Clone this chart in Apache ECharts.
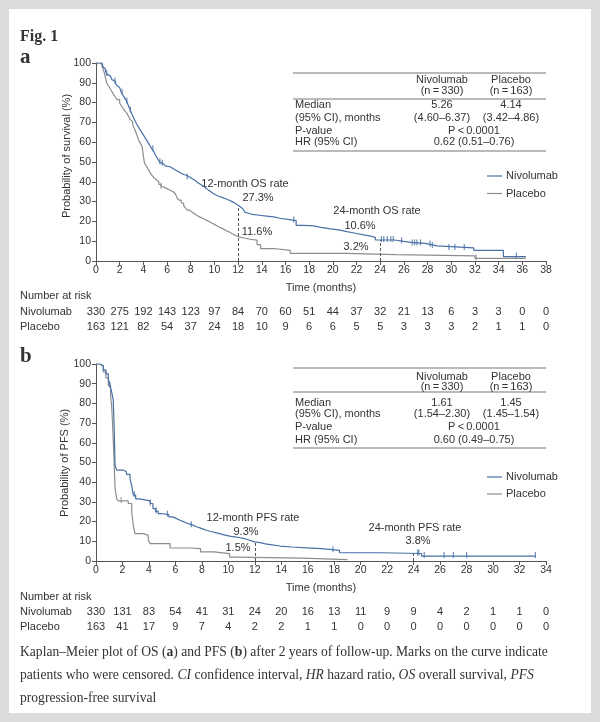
<!DOCTYPE html>
<html><head><meta charset="utf-8">
<script src="https://cdn.jsdelivr.net/npm/echarts/dist/echarts.min.js"></script>
<style>
html,body{margin:0;padding:0;background:#dcdcdc;width:600px;height:722px;overflow:hidden;}
#frame{position:absolute;left:9px;top:9px;width:582px;height:704px;background:#fff;}
#chart{position:absolute;left:0;top:0;width:600px;height:722px;}
#caption{position:absolute;left:20px;top:640px;width:575px;font-family:'Liberation Serif','Times New Roman',serif;font-size:13.6px;line-height:23px;color:#333;white-space:nowrap;}
</style></head>
<body>
<div id="frame"></div>
<div id="chart"></div>
<div id="caption">Kaplan–Meier plot of OS (<b>a</b>) and PFS (<b>b</b>) after 2 years of follow-up. Marks on the curve indicate<br>patients who were censored. <i>CI</i> confidence interval, <i>HR</i> hazard ratio, <i>OS</i> overall survival, <i>PFS</i><br>progression-free survival</div>
<script>
// ---------- DATA ----------
const osTicks = [0,2,4,6,8,10,12,14,16,18,20,22,24,26,28,30,32,34,36,38];
const pfsTicks = [0,2,4,6,8,10,12,14,16,18,20,22,24,26,28,30,32,34];
const osRiskNivo = [330,275,192,143,123,97,84,70,60,51,44,37,32,21,13,6,3,3,0,0];
const osRiskPbo  = [163,121,82,54,37,24,18,10,9,6,6,5,5,3,3,3,2,1,1,0];
const pfsRiskNivo = [330,131,83,54,41,31,24,20,16,13,11,9,9,4,2,1,1,0];
const pfsRiskPbo  = [163,41,17,9,7,4,2,2,1,1,0,0,0,0,0,0,0,0];

const osNivo = [[0,100],[0.5,99],[0.6,98],[0.7,97],[0.8,95.8],[0.9,94.5],[1.05,93.5],[1.2,92.5],[1.35,91.6],[1.5,90.7],[1.65,89.6],[1.8,88.5],[1.9,87.5],[2.0,86.5],[2.15,85],[2.3,83.5],[2.45,82],[2.6,80.6],[2.7,79],[2.8,77.5],[2.9,76],[3.0,74.7],[3.1,73.3],[3.2,72],[3.3,70.8],[3.4,69.6],[3.55,68],[3.7,66.5],[3.85,65],[4.0,63.7],[4.15,62.2],[4.3,60.8],[4.45,59.3],[4.6,57.8],[4.75,56.4],[4.9,55],[5.0,53.8],[5.1,52.7],[5.25,51.2],[5.4,49.8],[5.55,49.1],[5.7,48.5],[5.85,48],[6.0,47.6],[6.25,46.7],[6.5,45.8],[6.75,45],[7.0,44.3],[7.2,43.7],[7.4,43.2],[7.7,42.2],[7.95,41.3],[8.2,40.5],[8.4,39.5],[8.6,38.6],[8.85,37.6],[9.1,36.7],[9.3,35.8],[9.5,35],[9.7,34.1],[9.9,33.3],[10.15,32.6],[10.4,32],[10.7,31.3],[11.0,30.7],[11.25,30],[11.5,29.2],[11.75,28.2],[12.0,27.3],[12.2,26.4],[12.4,25.5],[12.55,24.7],[12.7,24],[12.95,23.5],[13.2,23.1],[13.8,22.7],[14.4,22.3],[15.0,21.6],[15.5,21],[16.2,20.4],[16.9,18.0],[17.5,17.7],[18.4,17.0],[19.0,16.2],[19.8,15.7],[20.5,14.8],[21.2,14.0],[21.9,13.2],[22.6,12.6],[23.2,11.8],[23.6,10.6],[25.2,9.9],[26.0,9.4],[26.6,8.9],[27.8,8.3],[28.3,7.6],[28.8,6.6],[31.9,5.4],[34.4,2.2],[36.3,2.2]];
const osPbo = [[0,100],[0.5,98.5],[0.6,96.8],[0.7,95],[0.8,92.5],[0.9,90],[1.05,88.5],[1.2,87],[1.35,85.5],[1.5,84],[1.65,82.7],[1.8,81.5],[2.0,79.7],[2.15,78.3],[2.3,77],[2.45,75.8],[2.6,74.7],[2.7,73.6],[2.8,72.5],[2.9,71.4],[3.0,70.4],[3.1,69],[3.2,67.5],[3.3,66],[3.4,64.5],[3.5,62.8],[3.6,61],[3.75,59.4],[3.9,57.8],[4.0,53],[4.1,49.3],[4.25,47.9],[4.4,46.5],[4.5,45.4],[4.6,44.3],[4.75,43.1],[4.9,42],[5.0,41],[5.1,40],[5.3,38.7],[5.5,37.5],[5.7,36.8],[5.9,36.2],[6.1,35.6],[6.3,35],[6.5,34],[6.7,33],[6.85,31.8],[7.0,30.7],[7.2,29.3],[7.4,28],[7.55,26.8],[7.7,25.7],[7.9,24.8],[8.1,24],[8.3,23.1],[8.5,22.3],[8.75,21.6],[9.0,21],[9.2,20.4],[9.4,19.8],[9.6,19.1],[9.8,18.5],[10.0,17.8],[10.2,17.2],[10.4,16.6],[10.6,16],[10.8,15.3],[11.0,14.7],[11.25,13.8],[11.5,13],[11.75,12.3],[12.0,11.6],[12.5,11],[13.0,10.5],[13.6,8.3],[13.9,6.3],[15.0,5.4],[16.4,3.9],[21.1,3.2],[25.3,2.6],[32.0,1.3],[36.3,1.3]];
const osNivoCens = [0.9,1.6,2.2,2.6,2.9,4.8,5.4,5.6,7.7,16.7,24.1,24.3,24.6,24.9,25.1,25.8,26.7,26.9,27.1,27.4,28.2,28.4,29.8,30.3,31.1,35.5];
const osPboCens = [5.5,32.1];

const pfsNivo = [[0,100],[0.3,99],[0.55,97],[0.75,95],[0.93,92.7],[1.05,89],[1.18,86],[1.3,81.7],[1.36,70.7],[1.4,60],[1.44,48.6],[1.56,46.1],[2.07,45.3],[2.3,44],[2.57,41.9],[2.7,38],[2.82,33.4],[3.0,31.5],[3.3,30.5],[4.1,29.2],[4.3,26.6],[4.5,25.2],[4.7,24],[5.0,23.5],[5.5,22.4],[5.8,21.5],[6.1,20.7],[6.35,20],[6.6,19.3],[6.85,18.7],[7.1,18.1],[7.35,17.4],[7.6,16.8],[7.85,16.2],[8.1,15.6],[8.35,15.1],[8.6,14.7],[8.85,14.3],[9.1,13.9],[9.35,13.4],[9.6,13],[9.85,12.6],[10.1,12.2],[10.5,11.8],[10.9,11.4],[11.2,10.8],[11.5,10.2],[11.75,9.7],[12.0,9.3],[12.4,8.7],[12.8,8.2],[13.3,7.6],[13.9,7.1],[14.8,6.7],[15.9,6.3],[17.0,5.8],[17.9,5.4],[18.4,4.2],[21.5,3.8],[24.6,2.5],[33.2,2.5]];
const pfsPbo = [[0,100],[0.3,99],[0.55,96],[0.75,93],[0.93,89],[1.1,84],[1.18,79],[1.25,70],[1.3,62],[1.38,48],[1.44,36.8],[1.56,31.7],[1.69,30.5],[2.44,29.2],[2.7,24.9],[2.82,18],[2.95,13.9],[3.58,13],[3.95,10.5],[4.1,8.8],[5.6,6.6],[7.1,6.3],[7.9,4.6],[8.9,3.7],[10.1,2.0],[10.5,1.5],[15.6,0.7],[19.0,0.7]];
const pfsNivoCens = [1.05,2.9,4.1,4.55,5.4,7.2,17.9,24.3,24.4,24.8,26.3,27.0,28.0,33.2];
const pfsPboCens = [1.9];

const landmarks = [12,24];
const osRatesNivo = [27.3,10.6];
const osRatesPbo = [11.6,3.2];
const pfsRatesNivo = [9.3,3.8];
const pfsRatesPbo = [1.5,null];

// ---------- STYLE ----------
const BLUE = '#4a70a6', GREY = '#8d8d8d', AX = '#555', TXT = '#333';
const SANS = '"Liberation Sans", Arial, sans-serif';
const SERIF = '"Liberation Serif", "Times New Roman", serif';

function stepVal(data, t){ let v = data[0][1]; for (const p of data){ if (p[0] <= t) v = p[1]; } return v; }
function cens(data, times){ return times.map(t => [t, stepVal(data, t)]); }

function xAx(grid, max){ return {type:'value', gridIndex:grid, min:0, max:max, interval:2,
  name:'Time (months)', nameLocation:'middle', nameGap:21, nameTextStyle:{color:TXT,fontSize:11,fontFamily:SANS},
  axisLine:{lineStyle:{color:AX,width:1}}, axisTick:{length:4,lineStyle:{color:AX}},
  axisLabel:{color:TXT,fontSize:10.5,fontFamily:SANS,margin:4}, splitLine:{show:false}}; }
function yAx(grid){ return {type:'value', gridIndex:grid, min:0, max:100, interval:10,
  axisLine:{show:true,lineStyle:{color:AX,width:1}}, axisTick:{show:true,length:4,lineStyle:{color:AX}},
  axisLabel:{color:TXT,fontSize:10.5,fontFamily:SANS,margin:5}, splitLine:{show:false}}; }

function km(name, data, color, xi, ml){ const s = {type:'line', name:name, xAxisIndex:xi, yAxisIndex:xi, data:data, step:'end',
  showSymbol:false, symbol:'none', lineStyle:{color:color,width:1.2}, itemStyle:{color:color}, z:3, animation:false};
  if (ml) s.markLine = {symbol:'none', silent:true, animation:false, label:{show:false}, lineStyle:{type:[3,2],color:'#555',width:1}, data:ml};
  return s; }
function cs(data, times, color, xi){ return {type:'scatter', xAxisIndex:xi, yAxisIndex:xi, data:cens(data,times), symbol:'rect',
  symbolSize:[1.2,6], symbolOffset:[0,-1], itemStyle:{color:color}, z:4, animation:false, silent:true}; }

const chart = echarts.init(document.getElementById('chart'), null, {renderer:'canvas'});
chart.setOption({
  animation:false,
  grid:[{left:96,top:63,width:450,height:198},{left:96,top:364,width:450,height:197}],
  xAxis:[xAx(0,38), xAx(1,34)],
  yAxis:[yAx(0), yAx(1)],
  series:[
    km('Placebo', osPbo, GREY, 0),
    km('Nivolumab', osNivo, BLUE, 0, landmarks.map((t,i)=>[{coord:[t,0]},{coord:[t,osRatesNivo[i]]}])),
    cs(osNivo, osNivoCens, BLUE, 0), cs(osPbo, osPboCens, GREY, 0),
    km('Placebo', pfsPbo, GREY, 1),
    km('Nivolumab', pfsNivo, BLUE, 1, landmarks.map((t,i)=>[{coord:[t,0]},{coord:[t,pfsRatesNivo[i]]}])),
    cs(pfsNivo, pfsNivoCens, BLUE, 1), cs(pfsPbo, pfsPboCens, GREY, 1)
  ]
});

// ---------- GRAPHIC TEXT ----------
const g = [];
function T(text, x, y, opt){ opt = opt||{}; const rot = opt.rotation; delete opt.rotation;
  const el = {type:'text', silent:true, style:Object.assign({text:text, x:0, y:0, fill:TXT,
  fontSize:11, fontFamily:SANS, align:'left', verticalAlign:'middle'}, opt), x:x, y:y};
  if (rot) el.rotation = rot; g.push(el); }
function L(x1,y1,x2,y2,c,w){ g.push({type:'line', silent:true, shape:{x1,y1,x2,y2}, style:{stroke:c||'#777', lineWidth:w||1.2}}); }

T('Fig. 1', 20, 37, {fontFamily:SERIF, fontWeight:'bold', fontSize:16});
T('a', 20, 58, {fontFamily:SERIF, fontWeight:'bold', fontSize:21});
T('b', 20, 357, {fontFamily:SERIF, fontWeight:'bold', fontSize:21});
T('Probability of survival (%)', 67, 156, {align:'center', rotation:Math.PI/2});
T('Probability of PFS (%)', 65, 463, {align:'center', rotation:Math.PI/2});

function table(rows, vals){
  L(293, rows[0], 546, rows[0]); L(293, rows[3], 546, rows[3]); L(293, rows[8], 546, rows[8]);
  T('Nivolumab', 442, rows[1], {align:'center'}); T('(n\u2009=\u2009330)', 442, rows[2], {align:'center'});
  T('Placebo', 511, rows[1], {align:'center'}); T('(n\u2009=\u2009163)', 511, rows[2], {align:'center'});
  T('Median', 295, rows[4]); T('(95% CI), months', 295, rows[5]);
  T(vals[0], 442, rows[4], {align:'center'}); T(vals[1], 511, rows[4], {align:'center'});
  T(vals[2], 442, rows[5], {align:'center'}); T(vals[3], 511, rows[5], {align:'center'});
  T('P-value', 295, rows[6]); T('P\u2009<\u20090.0001', 474, rows[6], {align:'center'});
  T('HR (95% CI)', 295, rows[7]); T(vals[4], 474, rows[7], {align:'center'});
}
table([73,79.5,91,99,105,118,131,142,151], ['5.26','4.14','(4.60–6.37)','(3.42–4.86)','0.62 (0.51–0.76)']);
table([368,377,387,392,403,413.5,427,440,448], ['1.61','1.45','(1.54–2.30)','(1.45–1.54)','0.60 (0.49–0.75)']);

function legend(y1, y2){
  L(487, y1, 502, y1, BLUE, 1.2); T('Nivolumab', 506, y1);
  L(487, y2, 502, y2, GREY, 1.2); T('Placebo', 506, y2);
}
legend(176, 193.5); legend(477, 494);

// annotations
T('12-month OS rate', 245, 184, {align:'center'});
T(osRatesNivo[0].toFixed(1)+'%', 258, 198, {align:'center'});
T(osRatesPbo[0].toFixed(1)+'%', 257, 231.5, {align:'center'});
T('24-month OS rate', 377, 210.5, {align:'center'});
T(osRatesNivo[1].toFixed(1)+'%', 360, 226, {align:'center'});
T(osRatesPbo[1].toFixed(1)+'%', 356, 246.5, {align:'center'});
T('12-month PFS rate', 253, 518, {align:'center'});
T(pfsRatesNivo[0].toFixed(1)+'%', 246, 532, {align:'center'});
T(pfsRatesPbo[0].toFixed(1)+'%', 238, 548, {align:'center'});
T('24-month PFS rate', 415, 528, {align:'center'});
T(pfsRatesNivo[1].toFixed(1)+'%', 418, 541, {align:'center'});

// number at risk
function risk(xi, ticks, nivo, pbo, yH, yN, yP){
  T('Number at risk', 20, yH); T('Nivolumab', 20, yN); T('Placebo', 20, yP);
  ticks.forEach((t,i)=>{ const x = chart.convertToPixel({xAxisIndex:xi}, t);
    T(String(nivo[i]), x, yN, {align:'center'}); T(String(pbo[i]), x, yP, {align:'center'}); });
}
risk(0, osTicks, osRiskNivo, osRiskPbo, 296, 312, 327);
risk(1, pfsTicks, pfsRiskNivo, pfsRiskPbo, 597, 612, 627);

chart.setOption({graphic:g});
</script>
</body></html>
